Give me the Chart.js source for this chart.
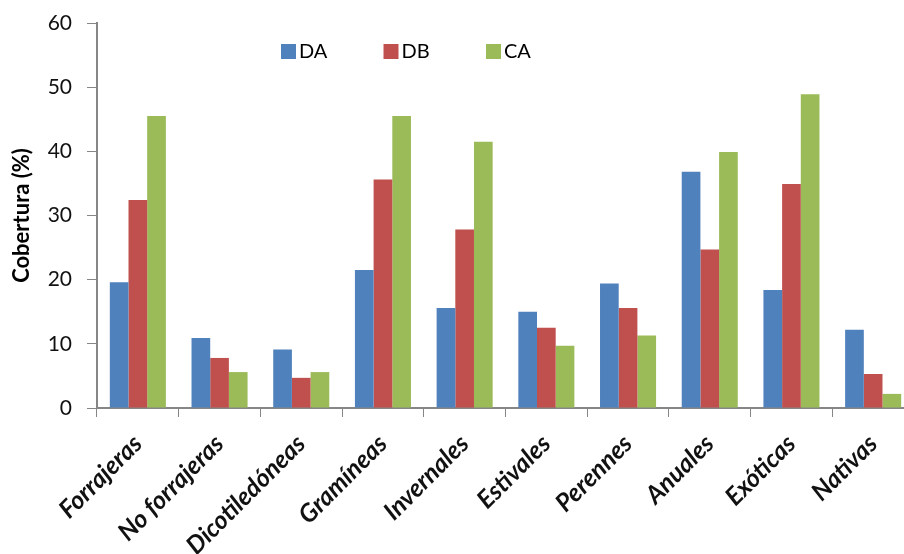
<!DOCTYPE html>
<html>
<head>
<meta charset="utf-8">
<script src="https://cdn.jsdelivr.net/npm/chart.js@4/dist/chart.umd.min.js"></script>
<style>
  html, body { margin: 0; padding: 0; background: #fff; overflow: hidden; }
  #wrap { position: absolute; left: 0; top: 0; width: 922px; height: 554px; }
</style>
</head>
<body>
<div id="wrap"><canvas id="chart" width="922" height="554"></canvas></div>
<script>
// categories and series (cobertura %)
const categories = ['Forrajeras', 'No forrajeras', 'Dicotiledóneas', 'Gramíneas', 'Invernales',
  'Estivales', 'Perennes', 'Anuales', 'Exóticas', 'Nativas'];
const seriesNames = ['DA', 'DB', 'CA'];
const DA = [19.6, 10.9, 9.1, 21.5, 15.6, 15.0, 19.4, 36.8, 18.4, 12.2];
const DB = [32.4, 7.8, 4.7, 35.6, 27.8, 12.5, 15.6, 24.7, 34.9, 5.3];
const CA = [45.5, 5.6, 5.6, 45.5, 41.5, 9.7, 11.3, 39.9, 48.9, 2.2];
const yTicks = [0, 10, 20, 30, 40, 50, 60];

const colors = ['#4F81BD', '#C0504D', '#9BBB59'];
const axisColor = '#868686';
const font = 'Lato, "Open Sans", sans-serif';

// simple legend drawn inside the plot, like the original
const insideLegend = {
  id: 'insideLegend',
  afterDraw(chart) {
    const ctx = chart.ctx;
    ctx.save();
    ctx.font = '20px ' + font;
    ctx.textBaseline = 'middle';
    chart.data.datasets.forEach((ds, i) => {
      const x = 281 + i * 102.5;
      const y = 44;
      ctx.fillStyle = ds.backgroundColor;
      ctx.fillRect(x, y, 15, 15);
      ctx.fillStyle = '#000';
      ctx.fillText(ds.label, x + 18, y + 8);
    });
    ctx.restore();
  }
};

new Chart(document.getElementById('chart'), {
  type: 'bar',
  data: {
    labels: categories,
    datasets: [
      { label: seriesNames[0], data: DA, backgroundColor: colors[0] },
      { label: seriesNames[1], data: DB, backgroundColor: colors[1] },
      { label: seriesNames[2], data: CA, backgroundColor: colors[2] }
    ]
  },
  options: {
    responsive: false,
    animation: false,
    devicePixelRatio: 1,
    categoryPercentage: 0.686,
    barPercentage: 1,
    layout: { padding: { top: 23, right: 8, left: 0, bottom: 0 } },
    plugins: {
      legend: { display: false },
      tooltip: { enabled: false }
    },
    scales: {
      x: {
        offset: true,
        grid: { display: true, drawOnChartArea: false, offset: true, color: axisColor, tickLength: 9 },
        border: { color: axisColor, width: 2 },
        ticks: {
          color: '#111',
          maxRotation: 45,
          minRotation: 45,
          autoSkip: false,
          padding: 12,
          font: { family: font, size: 25, weight: 'bold', style: 'italic' }
        },
        afterCalculateLabelRotation(scale) { scale.labelRotation = 45; },
        afterFit(scale) { scale.height = 146; }
      },
      y: {
        min: 0,
        max: 60,
        afterBuildTicks(scale) { scale.ticks = yTicks.map(v => ({ value: v })); },
        grid: { display: true, drawOnChartArea: false, color: axisColor, tickLength: 10 },
        border: { color: axisColor, width: 2 },
        ticks: {
          color: '#111',
          padding: 15,
          font: { family: font, size: 21 }
        },
        title: {
          display: true,
          text: 'Cobertura (%)',
          color: '#000',
          padding: { top: 9, bottom: 0 },
          font: { family: font, size: 22, weight: 'bold' }
        },
        afterFit(scale) {
          scale.width = 97;
          scale.paddingTop = 0;
          scale.paddingBottom = 0;
        }
      }
    }
  },
  plugins: [insideLegend]
});
</script>
</body>
</html>
